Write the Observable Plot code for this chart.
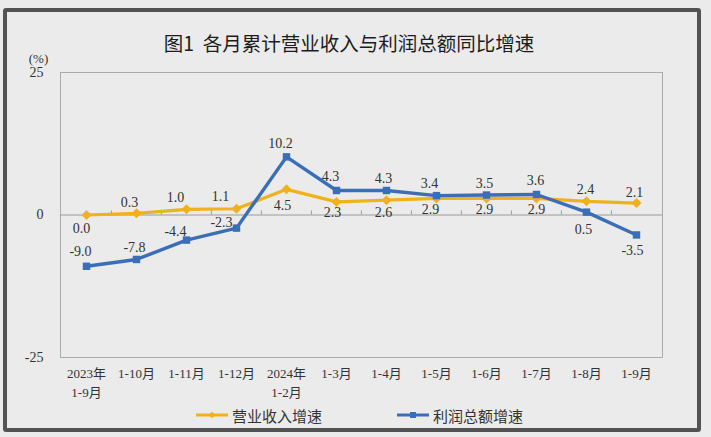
<!DOCTYPE html>
<html>
<head>
<meta charset="utf-8">
<script src="https://cdn.jsdelivr.net/npm/d3@7"></script>
<script src="https://cdn.jsdelivr.net/npm/@observablehq/plot@0.6"></script>
<style>
  html, body { margin: 0; padding: 0; }
  body {
    width: 711px; height: 437px; position: relative; overflow: hidden;
    background: #ebebeb;
  }
  #frame {
    position: absolute; left: 3px; top: 8px; width: 698px; height: 424px;
    box-sizing: border-box; border: 4px solid #525252; border-radius: 3px;
  }
  #title {
    position: absolute; left: 0; top: 29px; width: 698px; text-align: center;
    font-family: "Noto Sans CJK SC", sans-serif; font-size: 19.5px; color: #1c1c1c;
    line-height: 28px; white-space: pre;
  }
  #chart { position: absolute; left: 0; top: 0; }
  .legend-item {
    position: absolute; top: 404px; height: 22px; display: flex; align-items: center;
    font-family: "Noto Sans CJK SC", sans-serif; font-size: 15px; color: #333;
  }
  .legend-item svg { margin-right: 4px; }
</style>
</head>
<body>
<div id="frame"></div>
<div id="title">图1  各月累计营业收入与利润总额同比增速</div>
<div id="chart"></div>
<div id="legend"></div>
<script>
// Cumulative year-on-year growth (%), by reporting period
const months = ["2023年\n1-9月", "1-10月", "1-11月", "1-12月", "2024年\n1-2月", "1-3月",
                "1-4月", "1-5月", "1-6月", "1-7月", "1-8月", "1-9月"];
const revenueGrowth = [0.0, 0.3, 1.0, 1.1, 4.5, 2.3, 2.6, 2.9, 2.9, 2.9, 2.4, 2.1];
const profitGrowth = [-9.0, -7.8, -4.4, -2.3, 10.2, 4.3, 4.3, 3.4, 3.5, 3.6, 0.5, -3.5];
const yTicks = [-25, 0, 25];
const seriesNames = ["营业收入增速", "利润总额增速"];

// Hand-placed value label offsets (px) so labels clear the lines
const revenueLabelDx = [-5, -7, -11, -16, -4, -4, -3, -6, -2, 0, -1, -2];
const revenueLabelDy = [14, -11, -12, -12, 16, 11, 12, 11, 11, 11, -12, -11];
const profitLabelDx = [-6, -2, -11, -15, -6, -6, -3, -7, -2, -1, -3, -4];
const profitLabelDy = [-15, -12, -9, -6, -13, -14, -12, -12, -12, -14, 17, 16];

const revenueColor = "#f0b21c";
const profitColor = "#3a6fb6";

const revenue = months.map((m, i) => ({month: m, value: revenueGrowth[i]}));
const profit = months.map((m, i) => ({month: m, value: profitGrowth[i]}));

const W = 711, H = 400, mL = 60, mR = 49, mT = 72, mB = 43;
const step = (W - mL - mR) / months.length;
const serif = "'Liberation Serif', 'Noto Sans CJK SC', serif";

function labels(data, dxs, dys) {
  return data.map((d, i) => Plot.text([d], {
    x: "month", y: "value", text: d => d.value.toFixed(1),
    dx: dxs[i], dy: dys[i], fontSize: 14, fontFamily: serif, fill: "#333"
  }));
}

const chart = Plot.plot({
  width: W, height: H,
  marginLeft: mL, marginRight: mR, marginTop: mT, marginBottom: mB,
  style: {background: "transparent", fontFamily: serif, color: "#333"},
  x: {type: "point", domain: months, padding: 0.5},
  y: {domain: [-25, 25]},
  marks: [
    Plot.frame({stroke: "#ababab", strokeWidth: 1}),
    Plot.ruleY([0], {stroke: "#9a9a9a", strokeWidth: 1}),
    // small category separators on the zero line
    Plot.ruleX(months.slice(1), {x: d => d, y1: 0, y2: 0, insetTop: -4, dx: -step / 2, stroke: "#9a9a9a"}),
    Plot.axisY(yTicks, {tickSize: 0, tickPadding: 17, fontSize: 14, fontFamily: serif, fill: "#333",
                        tickFormat: d => String(d), label: null}),
    Plot.axisX({tickSize: 0, tickPadding: 7, fontSize: 13, fontFamily: serif, fill: "#333", lineHeight: 1.45, label: null}),
    Plot.text(["(%)"], {frameAnchor: "top-left", textAnchor: "middle", lineAnchor: "middle",
                        dx: -22, dy: -14, fontSize: 13, fontFamily: serif, fill: "#333"}),
    Plot.line(revenue, {x: "month", y: "value", stroke: revenueColor, strokeWidth: 3.2}),
    Plot.dot(revenue, {x: "month", y: "value", symbol: "diamond2", r: 4.5, fill: revenueColor, stroke: null}),
    Plot.line(profit, {x: "month", y: "value", stroke: profitColor, strokeWidth: 3.4}),
    Plot.dot(profit, {x: "month", y: "value", symbol: "square", r: 4.2, fill: profitColor, stroke: null}),
    ...labels(revenue, revenueLabelDx, revenueLabelDy),
    ...labels(profit, profitLabelDx, profitLabelDy)
  ]
});
document.getElementById("chart").append(chart);

// Legend
const legend = document.getElementById("legend");
const legendItems = [
  {name: seriesNames[0], color: revenueColor, symbol: d3.symbolDiamond2, left: 196, size: 26},
  {name: seriesNames[1], color: profitColor, symbol: d3.symbolSquare, left: 397, size: 36}
];
for (const item of legendItems) {
  const div = document.createElement("div");
  div.className = "legend-item";
  div.style.left = item.left + "px";
  const sw = 32;
  const svg = d3.create("svg").attr("width", sw).attr("height", 12);
  svg.append("line").attr("x1", 0).attr("x2", sw).attr("y1", 6).attr("y2", 6)
    .attr("stroke", item.color).attr("stroke-width", 3);
  svg.append("path").attr("transform", `translate(${sw / 2},6)`)
    .attr("d", d3.symbol(item.symbol, item.size)()).attr("fill", item.color);
  div.append(svg.node());
  const span = document.createElement("span");
  span.textContent = item.name;
  div.append(span);
  legend.append(div);
}
</script>
</body>
</html>
